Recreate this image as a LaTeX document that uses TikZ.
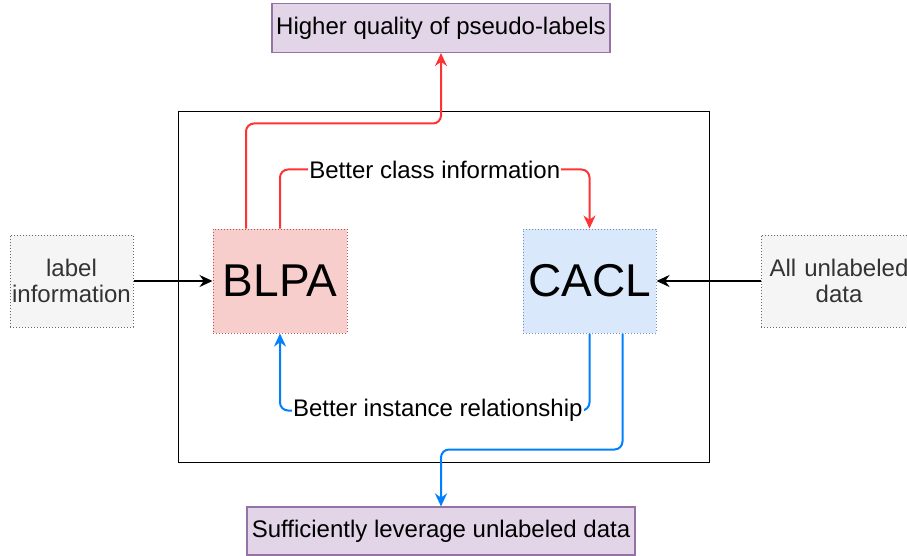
\documentclass[tikz,border=0pt]{standalone}
\usepackage{fontspec}
\setmainfont{Liberation Sans}
\usetikzlibrary{arrows.meta,calc}
\definecolor{redln}{HTML}{FF3333}
\definecolor{blueln}{HTML}{007FFF}
\definecolor{pinkfill}{HTML}{F8CECC}
\definecolor{pinkdraw}{HTML}{B85450}
\definecolor{bluefill}{HTML}{DAE8FC}
\definecolor{bluedraw}{HTML}{6C8EBF}
\definecolor{purplefill}{HTML}{E1D5E7}
\definecolor{purpledraw}{HTML}{9673A6}
\definecolor{greyfill}{HTML}{F5F5F5}
\definecolor{greydraw}{HTML}{666666}
\definecolor{greytext}{HTML}{333333}
\tikzset{
  txt/.style={font=\fontsize{24}{28}\selectfont},
  bigtxt/.style={font=\fontsize{46}{50}\selectfont},
  goalbox/.style={draw=purpledraw, fill=purplefill, line width=1.2pt, txt, inner sep=0pt},
  inputbox/.style={draw=greydraw, fill=greyfill, dotted, line width=1pt, txt, text=greytext, align=center, inner sep=0pt},
  modbox/.style={dotted, line width=1pt, bigtxt, inner sep=0pt, minimum height=104, minimum width=134},
  flow/.style={line width=2pt, rounded corners=8, -{Stealth[length=13pt,width=12pt]}},
  feed/.style={line width=1.8pt, -{Stealth[length=13pt,width=12pt]}},
  lbl/.style={txt, text=black, fill=white, inner sep=1pt}
}
\begin{document}
\begin{tikzpicture}[x=1pt,y=-1pt]
\clip (0,0) rectangle (907,556);
\fill[white] (0,0) rectangle (907,556);
% outer frame
\draw[line width=1pt] (178,112) rectangle (709,462);
% goal boxes
\node[goalbox, minimum width=338, minimum height=49] (top) at (441,28) {Higher quality of pseudo-labels};
\node[goalbox, minimum width=388, minimum height=48] (bottom) at (441,531) {Sufficiently leverage unlabeled data};
% modules
\node[modbox, draw=pinkdraw, fill=pinkfill] (blpa) at (280,281) {BLPA};
\node[modbox, draw=bluedraw, fill=bluefill, minimum width=133] (cacl) at (589.5,281) {CACL};
% inputs
\node[inputbox, minimum width=123, minimum height=92] (linfo) at (71.5,281) {label\\[-2pt]information};
\node[inputbox, minimum width=156, minimum height=92, text width=150] (unl) at (839,281) {All unlabeled\\[-2pt]data};
% inputs into the modules
\draw[feed] (linfo) -- (blpa);
\draw[feed] (unl) -- (cacl);
% red flows out of BLPA
\draw[flow, redln] ([xshift=-34]blpa.north) -- ++(0,-105) -| (top.south);
\draw[flow, redln] (blpa.north) -- ++(0,-59) -| (cacl.north);
\node[lbl] (cls) at ($(blpa.north)!0.5!(cacl.north)+(0,-59)$) {Better class information};
% blue flows out of CACL
\draw[flow, blueln] (cacl.south) -- ++(0,77) -| (blpa.south);
\node[lbl] (inst) at ($(blpa.south)!0.5!(cacl.south)+(3,77)$) {Better instance relationship};
\draw[flow, blueln] ([xshift=33]cacl.south) -- ++(0,116) -| (bottom.north);
\end{tikzpicture}
\end{document}
